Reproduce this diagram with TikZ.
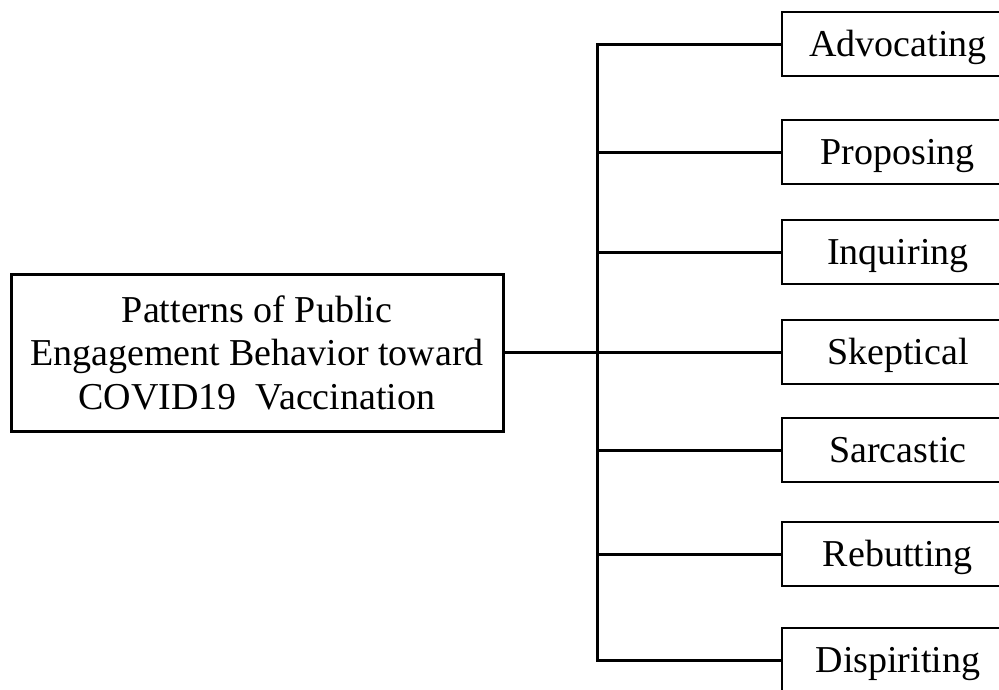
\documentclass[tikz,border=0pt]{standalone}
\usepackage{fontspec}
\setmainfont{Liberation Serif}
\usepackage{tikz}
\usetikzlibrary{positioning}
\tikzstyle{root} = [rectangle, line width=3pt, minimum width=492pt, minimum height=157pt, align=center, draw=black, font=\fontsize{38}{43.5}\selectfont]
\tikzstyle{leaf} = [rectangle, line width=1.8pt, minimum width=232pt, minimum height=64pt, inner sep=0pt, text height=25pt, text depth=0pt, draw=black, font=\fontsize{38}{43}\selectfont]
\tikzstyle{branch} = [line width=3pt]

\begin{document}
\begin{tikzpicture}[x=1pt, y=-1pt]
	\useasboundingbox (0,0) rectangle (999,689);
	\clip (0,0) rectangle (999,689);
	\node (Patterns) [root] at (257,352.5) {Patterns of Public\\Engagement Behavior toward\\COVID19\ \ Vaccination};
	\coordinate (trunk) at (597,352);
	\node (Advocating) [leaf, anchor=west] at (781,44) {Advocating};
	\node (Proposing) [leaf, anchor=west] at (781,152) {Proposing};
	\node (Inquiring) [leaf, anchor=west] at (781,252) {Inquiring};
	\node (Skeptical) [leaf, anchor=west] at (781,352) {Skeptical};
	\node (Sarcastic) [leaf, anchor=west] at (781,450) {Sarcastic};
	\node (Rebutting) [leaf, anchor=west] at (781,554) {Rebutting};
	\node (Dispiriting) [leaf, anchor=west] at (781,660) {Dispiriting};
	\draw [branch] (Patterns.east |- trunk) -- (trunk);
	\draw [branch] (trunk) |- (Advocating.west);
	\draw [branch] (trunk) |- (Proposing.west);
	\draw [branch] (trunk) |- (Inquiring.west);
	\draw [branch] (trunk) -- (Skeptical.west);
	\draw [branch] (trunk) |- (Sarcastic.west);
	\draw [branch] (trunk) |- (Rebutting.west);
	\draw [branch] (trunk) |- (Dispiriting.west);
\end{tikzpicture}
\end{document}
